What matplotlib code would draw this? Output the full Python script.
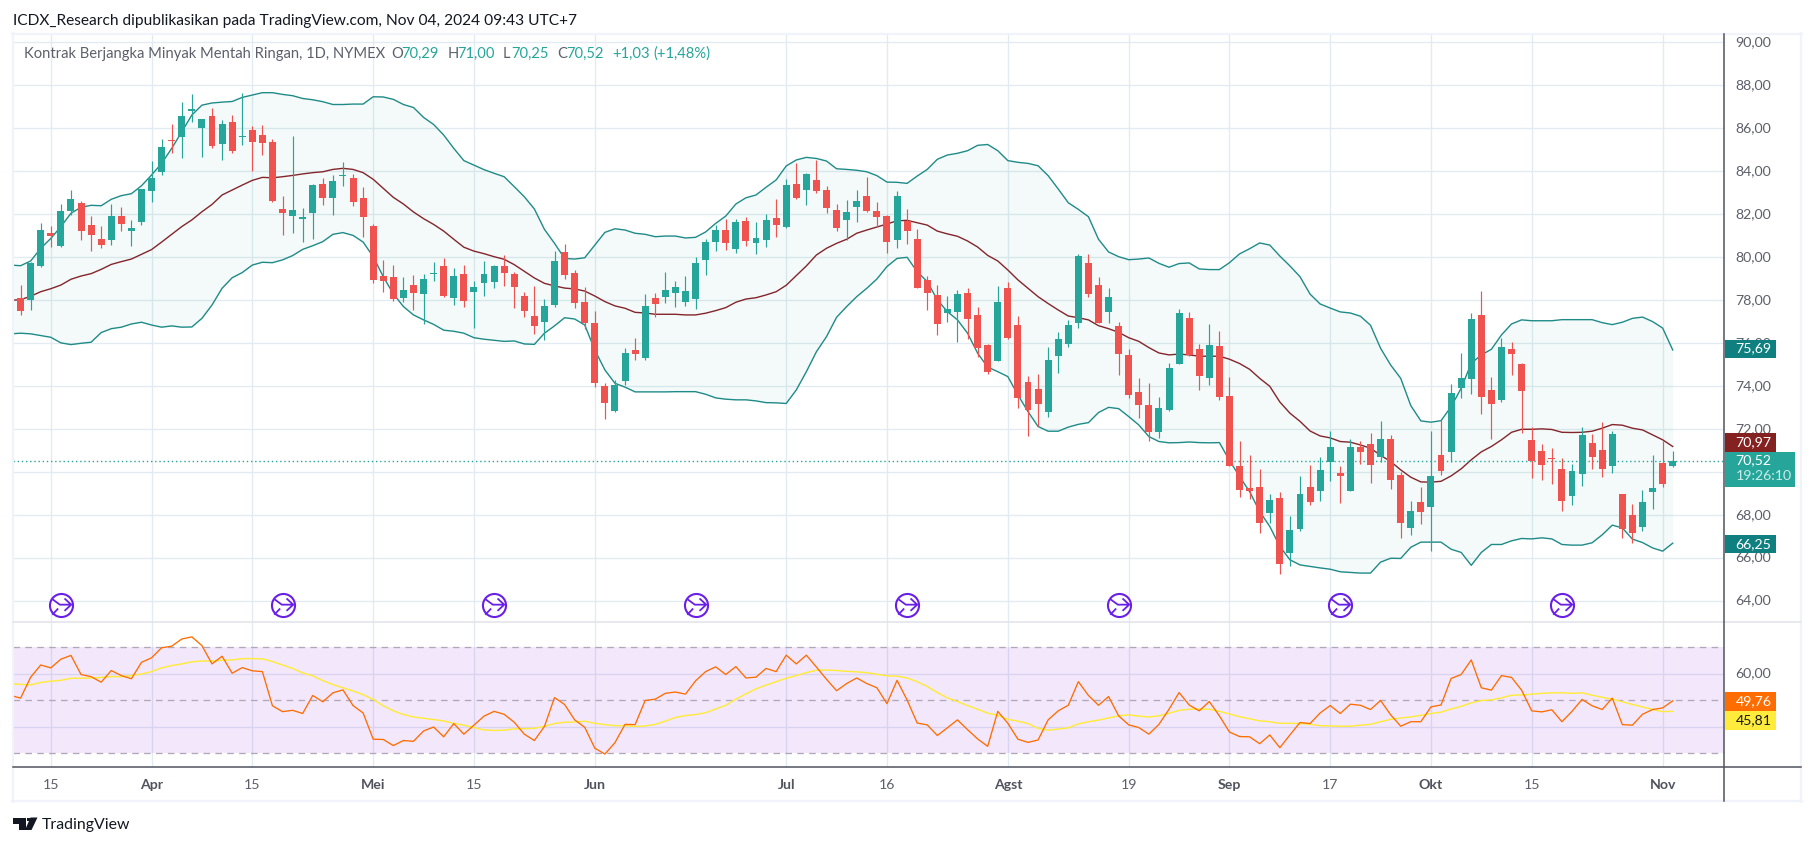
import numpy as np
import matplotlib
matplotlib.use("Agg")
import matplotlib.pyplot as plt
from matplotlib.patches import Rectangle, Polygon
from matplotlib.lines import Line2D
from matplotlib.path import Path
from matplotlib.transforms import ScaledTranslation

# ---- candles (bars 1..165)
opens = [78.11,78.02,79.60,81.13,80.53,82.16,82.53,81.50,80.85,80.81,81.92,81.22,81.64,83.09,83.97,85.46,85.60,86.81,86.02,86.57,85.27,86.29,85.58,85.92,85.69,85.36,82.25,81.92,81.78,82.06,83.41,82.76,83.78,83.69,82.76,81.46,
79.13,79.09,78.11,78.71,78.29,79.22,79.60,78.11,79.22,78.39,78.81,78.85,79.60,79.22,78.20,77.27,76.99,77.78,80.25,79.27,77.92,76.95,74.02,72.85,74.25,75.69,75.32,78.11,78.15,78.34,77.92,78.06,79.88,80.71,81.27,80.39,81.69,80.67,80.81,81.83,81.41,83.41,83.13,83.60,83.13,82.20,81.74,82.34,82.85,82.16,81.92,80.81,81.69,80.85,78.95,78.25,77.41,77.46,78.34,77.32,75.92,75.18,78.57,76.85,74.20,73.88,72.81,75.41,75.97,76.95,79.74,78.71,77.46,76.81,75.46,73.74,73.13,71.88,72.90,75.04,77.18,75.74,74.39,
75.88,73.55,70.29,69.27,69.32,68.11,68.81,66.25,67.36,69.32,69.13,70.48,69.97,69.13,71.18,71.32,70.71,71.55,69.88,67.41,68.62,68.39,70.81,70.95,73.92,74.34,77.32,73.83,73.36,75.74,75.04,71.50,70.99,70.67,70.16,68.90,69.92,71.36,71.04,70.29,68.99,68.02,67.46,69.09,70.43,70.29]
highs = [78.71,79.78,81.58,81.46,82.48,83.13,82.62,81.92,81.46,82.48,82.34,81.74,83.20,84.48,85.50,86.20,87.22,87.60,86.45,86.95,86.39,86.62,87.64,86.11,86.15,85.50,82.85,85.64,82.29,83.41,83.69,83.83,84.43,83.88,83.27,81.55,
79.88,79.64,79.09,79.18,79.22,79.78,79.97,79.50,79.64,78.90,79.83,79.64,80.11,79.32,78.39,78.67,78.06,80.29,80.62,79.41,78.62,77.50,74.16,74.29,75.78,76.25,78.29,78.34,79.32,78.90,79.13,80.02,80.85,81.50,81.78,81.78,81.88,81.64,82.02,82.71,83.64,84.39,83.92,84.53,83.32,82.48,82.67,83.13,83.74,82.57,81.95,83.09,82.25,81.32,79.13,78.71,78.20,78.48,78.57,77.69,75.95,78.67,78.85,77.27,74.48,74.57,75.83,76.53,77.09,80.16,80.16,79.09,78.57,76.99,75.74,74.39,74.16,73.50,75.09,77.60,77.46,75.97,76.90,
76.57,74.43,71.46,70.81,70.16,68.99,69.09,67.97,69.83,70.34,70.71,71.92,70.29,71.55,71.46,71.83,72.39,71.74,70.02,68.67,69.32,71.92,72.43,74.11,75.55,77.41,78.43,74.43,76.25,76.06,75.09,72.11,71.32,71.13,70.67,70.39,72.11,71.78,72.34,71.92,69.01,68.53,69.18,70.81,71.46,71.00]
lows = [77.32,77.55,79.55,80.50,80.50,81.97,80.81,80.29,80.43,80.57,81.22,80.53,81.50,82.57,83.83,84.85,84.62,86.29,84.67,85.09,84.53,84.85,85.22,84.02,84.76,82.57,81.04,81.13,80.71,80.85,82.43,81.97,83.32,82.39,80.95,78.81,
78.39,77.97,77.92,77.55,76.90,78.90,78.15,77.78,77.69,76.71,78.20,78.57,78.67,77.64,77.22,76.43,76.16,77.69,78.99,77.64,76.67,73.97,72.48,72.81,74.06,75.22,75.22,77.22,77.88,77.69,77.74,77.60,79.18,80.29,80.34,80.20,80.53,80.16,80.48,80.95,81.36,82.71,82.43,82.99,82.06,81.22,80.81,81.64,82.11,81.41,80.20,80.43,80.62,78.55,77.55,76.39,76.99,76.06,76.20,75.36,74.57,75.16,76.22,72.99,71.69,72.16,72.57,74.62,75.83,76.71,78.15,76.93,76.95,74.53,73.46,72.53,71.46,71.60,72.85,75.02,75.41,73.83,74.06,
73.36,70.27,68.85,68.76,67.18,67.64,65.27,65.64,67.27,68.48,68.67,69.60,68.57,69.11,70.39,69.50,70.48,69.22,66.95,67.09,67.60,66.34,69.88,70.48,73.46,73.64,72.71,71.55,73.27,74.53,71.83,69.74,69.64,69.46,68.20,68.48,69.36,70.16,69.78,69.97,66.95,66.71,67.27,68.29,69.32,70.25]
closes = [77.52,79.75,81.27,80.99,82.16,82.71,81.22,81.04,80.57,81.92,81.55,81.36,83.18,83.69,85.13,85.41,86.57,86.90,86.43,85.18,86.20,84.95,85.64,85.36,85.32,82.62,82.06,82.20,81.88,83.36,82.76,83.55,83.83,82.57,81.88,78.95,
78.90,78.06,78.48,78.34,78.99,79.27,78.20,79.13,77.97,78.62,79.22,79.60,79.27,78.62,77.50,76.81,77.74,79.83,79.18,77.88,76.95,74.16,73.22,74.06,75.55,75.50,77.74,77.83,78.48,78.62,78.43,79.74,80.71,81.27,80.67,81.64,80.76,80.90,81.74,81.50,83.36,82.76,83.88,83.09,82.29,81.36,82.11,82.62,82.16,81.88,80.71,82.85,81.22,78.57,78.34,76.90,77.60,78.29,77.13,75.78,74.67,77.92,76.25,73.46,72.90,73.18,75.22,76.20,76.85,80.06,78.29,76.95,78.15,75.50,73.60,73.13,71.88,72.99,74.85,77.41,75.46,74.48,75.92,
73.50,70.29,69.18,69.13,67.64,68.71,65.74,67.32,68.99,68.62,70.11,71.18,69.83,71.18,70.95,70.34,71.55,69.64,67.64,68.20,68.16,69.83,70.06,73.69,74.39,77.13,73.50,73.18,75.83,75.50,73.78,70.53,70.34,70.62,68.67,70.06,71.74,70.71,70.16,71.78,67.36,67.18,68.62,69.27,69.46,70.52]

# ---- Bollinger bands (left edge + bars 1..165)
bb_upper = [79.64,79.61,79.83,80.42,80.88,81.43,82.05,82.33,82.42,82.40,82.70,82.87,82.96,83.33,83.83,84.37,85.07,85.84,86.62,87.08,87.18,87.22,87.25,87.44,87.55,87.66,87.66,87.58,87.52,87.39,87.33,87.24,87.11,87.11,87.13,87.13,87.47,87.46,87.35,87.11,86.97,86.51,86.18,85.69,85.07,84.50,84.29,84.08,83.91,83.75,83.29,82.82,82.25,81.30,80.65,79.95,79.92,79.98,80.57,81.16,81.33,
81.27,81.12,81.07,80.96,80.99,80.99,80.90,80.93,81.18,81.58,81.92,82.48,82.77,82.90,83.26,83.60,84.25,84.53,84.65,84.60,84.48,84.12,84.09,84.05,83.98,83.80,83.50,83.49,83.44,83.78,84.09,84.56,84.76,84.84,84.96,85.21,85.25,84.96,84.50,84.42,84.37,84.26,83.80,83.18,82.54,82.23,81.89,80.84,80.25,80.03,79.89,79.92,79.97,79.72,79.54,79.71,79.74,79.46,79.43,
79.43,79.75,80.16,80.40,80.67,80.57,80.06,79.60,79.10,78.29,77.83,77.64,77.46,77.41,77.26,76.84,75.77,74.99,74.37,73.10,72.39,72.33,72.40,73.05,73.91,75.07,75.46,75.72,76.39,76.90,77.09,77.05,77.05,77.05,77.10,77.10,77.10,77.10,76.96,76.87,76.98,77.16,77.22,77.01,76.71,75.69]
bb_basis = [78.00,78.03,78.19,78.40,78.54,78.71,78.98,79.13,79.24,79.44,79.67,79.80,79.92,80.14,80.36,80.71,81.07,81.43,81.74,82.12,82.46,82.90,83.13,83.36,83.58,83.72,83.70,83.75,83.81,83.88,83.94,83.98,84.09,84.14,84.09,83.94,83.63,83.21,82.79,82.48,82.11,81.80,81.53,81.22,80.84,80.47,80.29,80.17,80.03,79.91,79.66,79.35,79.04,78.79,78.67,78.57,78.53,78.43,78.20,77.94,77.74,
77.63,77.44,77.41,77.35,77.35,77.35,77.32,77.32,77.40,77.52,77.66,77.91,78.06,78.12,78.25,78.40,78.70,79.15,79.60,80.11,80.42,80.65,80.84,81.12,81.27,81.41,81.55,81.70,81.72,81.61,81.50,81.22,81.09,80.98,80.76,80.48,80.09,79.83,79.41,78.95,78.56,78.17,77.85,77.55,77.27,77.19,77.09,76.82,76.68,76.51,76.26,76.09,75.80,75.55,75.46,75.50,75.46,75.40,75.40,
75.40,75.26,75.06,74.79,74.37,74.00,73.27,72.75,72.37,71.92,71.69,71.60,71.43,71.40,71.27,71.12,70.79,70.50,70.11,69.77,69.55,69.54,69.58,69.83,70.16,70.58,70.95,71.20,71.51,71.86,72.00,72.00,72.02,71.99,71.86,71.85,71.86,71.91,72.05,72.22,72.19,72.05,71.97,71.74,71.51,71.20]
bb_lower = [76.44,76.47,76.44,76.36,76.28,76.02,75.94,76.00,76.05,76.50,76.68,76.75,76.90,76.98,76.85,76.75,76.81,76.75,76.76,77.16,77.78,78.56,79.05,79.29,79.64,79.77,79.75,79.88,80.08,80.37,80.54,80.73,81.07,81.15,81.02,80.71,80.03,79.10,78.30,77.71,77.32,77.09,76.88,76.61,76.56,76.47,76.26,76.19,76.14,76.09,76.11,75.97,75.95,76.47,76.81,77.19,77.13,76.85,75.69,74.76,74.14,
73.96,73.74,73.74,73.74,73.74,73.75,73.75,73.75,73.63,73.46,73.40,73.37,73.37,73.32,73.24,73.23,73.20,73.83,74.68,75.61,76.31,77.21,77.71,78.17,78.56,78.99,79.57,79.95,80.00,79.33,78.87,78.02,77.47,77.09,76.47,75.54,74.89,74.68,74.45,73.60,72.82,72.13,71.91,71.91,72.10,72.23,72.31,72.78,73.02,72.96,72.59,72.20,71.66,71.43,71.37,71.38,71.41,71.38,71.37,
71.38,70.55,69.80,69.10,68.17,67.48,66.55,65.93,65.69,65.62,65.55,65.49,65.37,65.34,65.31,65.31,65.82,66.00,65.99,66.51,66.75,66.75,66.75,66.42,66.27,65.67,66.27,66.64,66.64,66.81,66.92,66.90,66.95,66.90,66.64,66.61,66.61,66.72,67.09,67.54,67.41,66.89,66.73,66.48,66.33,66.70]

# ---- RSI and its moving average (left edge + bars 1..165)
rsi = [51.8,50.8,58.7,63.3,62.2,65.5,66.9,59.7,58.9,56.8,61.2,59.3,58.1,64.3,66.0,69.8,70.4,73.1,73.9,70.6,63.7,66.6,60.2,62.3,61.1,60.8,47.9,45.7,46.2,45.0,51.8,49.4,52.8,53.9,48.0,45.2,35.3,35.2,32.9,34.8,34.5,38.4,39.9,36.2,41.2,37.2,40.6,44.0,45.8,44.7,41.7,37.2,34.8,40.1,51.0,48.4,42.6,39.8,31.9,29.7,34.0,
40.9,40.8,49.9,50.4,52.6,53.1,52.3,57.3,60.8,62.6,59.7,62.7,58.4,58.7,62.0,60.8,67.0,63.7,67.0,62.5,57.9,53.6,56.3,58.4,56.3,54.7,48.7,57.5,50.1,41.4,40.7,36.7,39.6,42.6,38.9,35.4,32.6,45.8,41.3,35.3,34.1,35.0,42.6,46.0,48.1,57.0,51.8,48.1,51.4,44.1,40.7,39.7,37.2,40.9,46.6,52.9,48.2,46.0,49.5,
44.1,38.0,36.3,36.2,33.6,36.9,32.1,36.9,41.6,41.2,45.2,48.0,45.0,48.5,48.1,46.5,49.9,44.5,40.2,41.9,41.9,47.5,48.2,58.2,59.7,65.2,54.7,53.8,59.3,58.6,53.8,46.0,45.6,46.4,41.9,45.8,50.3,47.9,46.5,50.8,40.8,40.6,44.7,46.5,47.1,49.76]
rsi_ma = [56.2,56.0,55.8,56.7,57.2,57.5,58.3,58.3,58.4,58.6,58.9,58.9,59.3,59.9,60.8,62.2,63.1,63.7,64.5,64.8,64.8,65.1,65.2,65.7,65.7,65.6,64.6,63.3,62.0,60.3,59.2,57.4,55.9,54.7,53.5,52.1,50.3,47.9,46.0,44.6,43.7,43.2,42.7,42.2,41.3,40.6,39.7,38.8,38.6,38.7,39.2,39.3,39.4,40.2,41.2,41.7,41.8,42.1,41.3,40.8,40.4,
40.4,40.1,40.3,40.9,42.1,43.5,44.2,44.6,45.3,46.7,48.1,50.4,52.4,54.3,55.7,57.0,58.3,59.3,60.4,61.3,61.4,61.2,60.9,60.7,60.4,59.8,59.2,59.1,58.4,57.0,55.2,52.9,50.9,49.5,48.0,46.6,45.1,44.3,42.8,42.1,41.2,39.4,38.7,39.1,39.6,41.1,41.9,42.5,43.3,44.1,44.5,44.0,43.7,44.1,45.1,46.2,46.6,46.7,46.6,
45.8,44.8,43.8,43.0,42.2,41.9,41.3,41.3,41.2,40.9,40.4,40.3,40.2,40.2,40.6,40.9,41.9,42.8,43.3,43.7,44.3,45.0,45.5,46.7,47.7,49.0,49.9,50.1,50.9,51.9,52.0,52.3,52.6,52.8,52.8,52.6,52.8,51.9,51.1,50.4,49.4,48.4,47.5,46.5,45.7,45.81]

# ---- axes text and ticks (70 and 40 are grid lines whose labels sit behind the value tags)
price_ticks = [64,66,68,70,72,74,76,78,80,82,84,86,88,90]
price_labels = ["64,00","66,00","68,00","","72,00","74,00","76,00","78,00","80,00","82,00","84,00","86,00","88,00","90,00"]
rsi_ticks = [40,60]
rsi_labels = ["","60,00"]
rsi_levels = [30,50,70]
time_ticks = [4,14,24,36,46,58,77,87,99,111,121,131,141,151,164]
time_labels = ["15","Apr","15","Mei","15","Jun","Jul","16","Agst","19","Sep","17","Okt","15","Nov"]
time_bold = ["Apr","Mei","Jun","Jul","Agst","Sep","Okt","Nov"]
event_bars = [5,27,48,68,89,110,132,154]
event_level = 63.81
last_close = 70.52

W, H = 1814, 846
FONT = "Lato"
GREY = "#5d606b"
UP, DOWN = "#26a69a", "#ef5350"
GRID = "#e1ebf1"
plt.rcParams["font.family"] = [FONT, "DejaVu Sans"]

fig = plt.figure(figsize=(W/100, H/100), dpi=100, facecolor="white")

def axrect(l, t, r, b):
    return [l/W, 1-b/H, (r-l)/W, (b-t)/H]

L, R, T, MID, BOT = 13, 1724.3, 34, 622.3, 767.3
ax = fig.add_axes(axrect(L, T, R, MID))
ax2 = fig.add_axes(axrect(L, MID, R, BOT), sharex=ax)
xlim = (0.246, 170.12)

bar_x = np.arange(1, len(opens)+1)
band_x = np.arange(len(bb_upper))

for a in (ax, ax2):
    a.set_facecolor("white")
    for s in a.spines.values():
        s.set_visible(False)
    a.grid(True, color=GRID, lw=0.95, zorder=0)
    a.set_axisbelow(True)
    a.yaxis.tick_right()
    a.tick_params(axis="y", length=0, pad=8, labelsize=10.2, labelcolor=GREY)

ax.set_xlim(*xlim)
ax.set_ylim(63.02, 90.39)
ax.set_yticks(price_ticks, price_labels)
ax.tick_params(axis="x", length=0, labelbottom=False)

# bands
ax.fill_between(band_x, bb_lower, bb_upper, color="#26a69a", alpha=0.055, lw=0, zorder=1)
ax.plot(band_x, bb_upper, color="#1f8b88", lw=1.0, zorder=2)
ax.plot(band_x, bb_lower, color="#1f8b88", lw=1.0, zorder=2)
ax.plot(band_x, bb_basis, color="#84252b", lw=1.0, zorder=2)
ax.axhline(last_close, color=UP, lw=1, ls=(0, (1, 2)), zorder=2)

# candles
o, h, l, c = map(np.asarray, (opens, highs, lows, closes))
cols = np.where(c >= o, UP, DOWN)
ax.vlines(bar_x, l, h, colors=cols, lw=0.85, zorder=3)
ax.bar(bar_x, np.abs(c-o), bottom=np.minimum(o, c), width=0.69, color=cols, lw=0, zorder=4)

# event markers
ev_y = [event_level]*len(event_bars)
ax.plot(event_bars, ev_y, ls="", marker="o", ms=16.6, mfc="white", mec="#6a1fe8", mew=1.5, zorder=5, clip_on=False)
glyph = Path([(-0.55, 0.38), (-0.1, 0.05), (0.55, 0.05), (0.18, 0.42), (0.58, 0.05), (0.18, -0.32), (-0.2, -0.18), (-0.55, -0.55)],
             [Path.MOVETO, Path.LINETO, Path.LINETO, Path.MOVETO, Path.LINETO, Path.LINETO, Path.MOVETO, Path.LINETO])
ax.plot(event_bars, ev_y, ls="", marker=glyph, ms=14, mfc="none", mec="#6a1fe8", mew=1.3, zorder=6, clip_on=False)

# RSI
ax2.set_ylim(24.7, 79.4)
ax2.set_yticks(rsi_ticks, rsi_labels)
ax2.axhspan(min(rsi_levels), max(rsi_levels), color="#8700e1", alpha=0.095, lw=0, zorder=1)
for lv in rsi_levels:
    ax2.axhline(lv, color="#b0a8b8", lw=0.95, ls=(0, (5, 4)), zorder=2)
ax2.plot(band_x, rsi_ma, color="#ffeb3b", lw=1.05, zorder=3)
ax2.plot(band_x, rsi, color="#ff6d00", lw=0.95, zorder=4)
ax2.set_xticks(time_ticks, time_labels)
ax2.tick_params(axis="x", length=0, pad=8, labelsize=10.2, labelcolor=GREY)
for t in ax2.get_xticklabels():
    if t.get_text() in time_bold:
        t.set_fontweight("bold")
        t.set_color("#50535e")

# nudge axis labels to the reference's baseline
up = ScaledTranslation(0, 1.6/100, fig.dpi_scale_trans)
for a in (ax, ax2):
    for t in a.get_yticklabels():
        t.set_transform(t.get_transform() + up)
down = ScaledTranslation(0, -1/100, fig.dpi_scale_trans)
for t in ax2.get_xticklabels():
    t.set_transform(t.get_transform() + down)

# frame and axis lines (in figure pixels)
def hline(x0, x1, y, color, lw, z=4):
    fig.add_artist(Line2D([x0/W, x1/W], [1-y/H, 1-y/H], color=color, lw=lw, zorder=z))
def vline(x, y0, y1, color, lw, z=4):
    fig.add_artist(Line2D([x/W, x/W], [1-y0/H, 1-y1/H], color=color, lw=lw, zorder=z))

FR = "#f0f3fa"
hline(12, 1802, 34, FR, 1.6); hline(12, 1802, 801, FR, 1.6)
vline(13, 33, 802, FR, 1.6); vline(1801, 33, 802, FR, 1.6)
hline(13, 1801, MID, "#e0e3eb", 1.1)
hline(13, 1801, BOT, "#50535e", 1.1)
vline(R, 34, 801, "#50535e", 1.1)

def box(x0, y0, x1, y1, color):
    fig.add_artist(Rectangle((x0/W, 1-y1/H), (x1-x0)/W, (y1-y0)/H, transform=fig.transFigure, fc=color, ec="none", zorder=5))
def label(x, y, s, color=GREY, size=10.2, ha="left", weight="normal", z=6):
    fig.text(x/W, 1-y/H, s, color=color, fontsize=size, ha=ha, va="center", fontweight=weight, zorder=z)

# value tags on price scale
TX = 1735.5
box(1724.7, 340, 1775.6, 358.3, "#0f7f7f"); label(TX, 348.5, "75,69", "white")
box(1724.7, 433.3, 1775.6, 451.7, "#842121"); label(TX, 442, "70,97", "white")
box(1724.7, 452, 1794.8, 486.7, "#26a69a"); label(TX, 460, "70,52", "white"); label(TX, 476, "19:26:10", "#c9ebe7")
box(1724.7, 535.3, 1775.6, 553.3, "#0f7f7f"); label(TX, 543.8, "66,25", "white")
box(1724.7, 692, 1775.6, 711, "#ff6d00"); label(TX, 701, "49,76", "white")
box(1724.7, 711, 1775.6, 729.7, "#ffeb3b"); label(TX, 720, "45,81", "#131722")

# titles
label(13, 20.6, "ICDX_Research dipublikasikan pada TradingView.com, Nov 04, 2024 09:43 UTC+7", "#131722", 11.2)
LY = 53.8
label(23.5, LY, "Kontrak Berjangka Minyak Mentah Ringan, 1D, NYMEX", GREY, 10.6)
for x, s, col in [(391, "O", GREY), (401, "70,29", UP), (447.7, "H", GREY), (457.5, "71,00", UP),
                  (503, "L", GREY), (511, "70,25", UP), (557, "C", GREY), (566, "70,52", UP),
                  (612, "+1,03", UP), (653, "(+1,48%)", UP)]:
    label(x, LY, s, col, 10.6)

# TradingView logo
LOGO = "#131722"
fig.add_artist(Polygon([(13/W, 1-817.5/H), (25.5/W, 1-817.5/H), (25.5/W, 1-830/H), (19/W, 1-830/H), (19/W, 1-823.5/H), (13/W, 1-823.5/H)],
                       closed=True, transform=fig.transFigure, fc=LOGO, ec="none", zorder=5))
fig.add_artist(Polygon([(30.5/W, 1-817.5/H), (37.5/W, 1-817.5/H), (31.5/W, 1-830/H), (25/W, 1-830/H)],
                       closed=True, transform=fig.transFigure, fc=LOGO, ec="none", zorder=5))
fig.add_artist(Polygon([(26.5/W, 1-817.5/H), (30/W, 1-817.5/H), (30/W, 1-821/H), (26.5/W, 1-821/H)],
                       closed=True, transform=fig.transFigure, fc=LOGO, ec="none", zorder=5))
label(42, 825, "TradingView", "#131722", 11.4)

fig.savefig("out.png", dpi=100)
